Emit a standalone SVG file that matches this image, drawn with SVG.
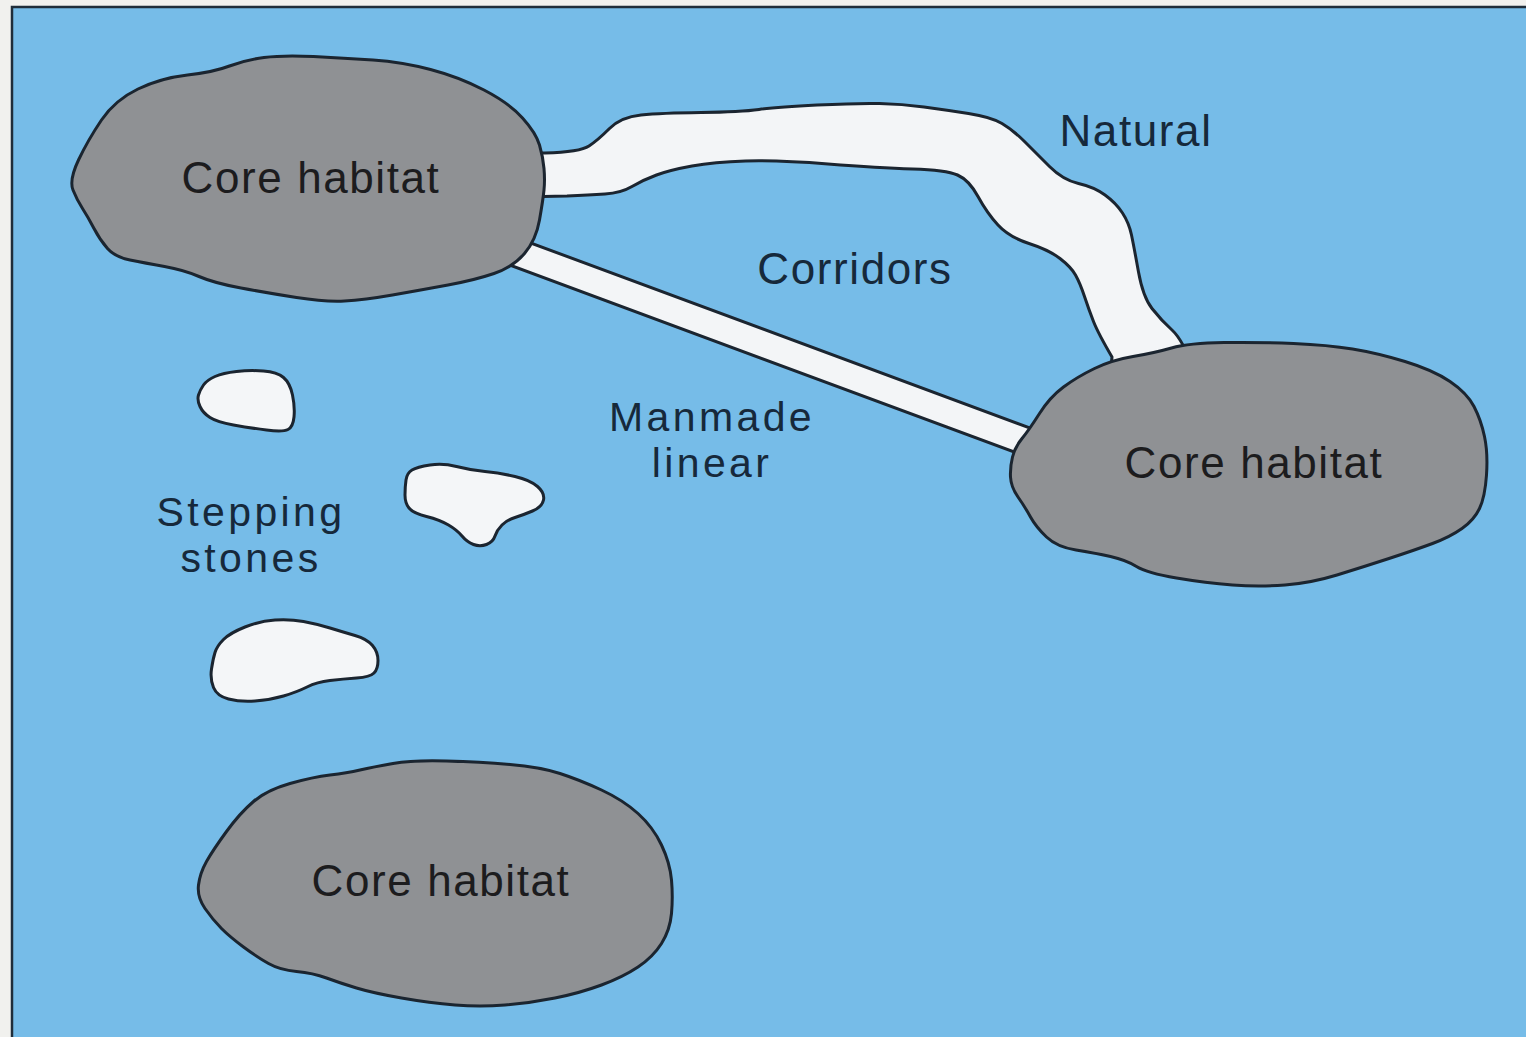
<svg xmlns="http://www.w3.org/2000/svg" width="1526" height="1037" viewBox="0 0 1526 1037">
<style>
.bg{fill:#f1f1ee}
.sea{fill:#76bce8;stroke:#1f2d3a;stroke-width:2.5}
.core{fill:#8f9194;stroke:#1b2530;stroke-width:3;stroke-linejoin:round}
.stone{fill:#f4f6f8;stroke:#1b2530;stroke-width:3;stroke-linejoin:round}
.corr{fill:#f3f5f7;stroke:#1b2530;stroke-width:3;stroke-linejoin:round}
.lbl{font-family:"Liberation Sans",Arial,sans-serif;font-size:44px;letter-spacing:1.6px;fill:#16293b;text-anchor:middle}
.lbl2{font-family:"Liberation Sans",Arial,sans-serif;font-size:41px;letter-spacing:3.4px;fill:#16293b;text-anchor:middle}
.clbl{font-family:"Liberation Sans",Arial,sans-serif;font-size:44px;letter-spacing:1.6px;fill:#1c1c1e;text-anchor:middle}
</style>
<rect class="bg" x="0" y="0" width="1526" height="1037"/>
<path class="sea" d="M1530 7 L12 7 L12 1040 L1530 1040 Z"/>
<g id="connectors">
<path id="natural-corridor" class="corr" d="M520 153 L545 153 Q580 152 589 146 Q598 140 609.5 128.5 Q621 117 641 115 Q661 113 701 112.5 Q741 112 759 109.5 Q777 107 817 105 Q857 103 879.5 103.5 Q902 104 924 107 Q946 110 968.5 113.5 Q991 117 1002 123.5 Q1013 130 1024.5 141.5 Q1036 153 1049.5 166.5 Q1063 180 1078.5 183.5 Q1094 187 1105 195 Q1116 203 1122.5 213 Q1129 223 1131.5 235 Q1134 247 1138.5 272 Q1143 297 1152 308.5 Q1161 320 1172 330 Q1183 340 1195 372 L1110 378 L1112 357 Q1098 333 1093.5 321.5 Q1089 310 1084.5 296.5 Q1080 283 1075.5 275 Q1071 267 1060 258.5 Q1049 250 1029 243.5 Q1009 237 998 225 Q987 213 978 196.5 Q969 180 957.5 175 Q946 170 912.5 169 Q879 168 828 164 Q777 160 745.5 161 Q714 162 692 166 Q670 170 656.5 175 Q643 180 632 186.5 Q621 193 605 194 Q589 195 567 196 L520 197 Z"/>
<path id="manmade-corridor" class="corr" d="M500 231.6 L1050 435.4 L1050 465.3 L490 257.8 Z"/>
</g>
<g id="core-1">
<path class="core" d="M73 190 Q69 180 78.5 160 Q88 140 101.5 120 Q115 100 138 89 Q161 78 187.5 75 Q214 72 229.5 66 Q245 60 264 57.5 Q283 55 313.5 56.5 Q344 58 373 60 Q402 62 430.5 69.5 Q459 77 484 90 Q509 103 522.5 118 Q536 133 539.5 145 Q543 157 544 168.5 Q545 180 544 190 Q543 200 539.5 220 Q536 240 524.5 253.5 Q513 267 494 273.5 Q475 280 448 285 Q421 290 392.5 295 Q364 300 344.5 301 Q325 302 296.5 297.5 Q268 293 241 288 Q214 283 199 276.5 Q184 270 164.5 266.5 Q145 263 130 260 Q115 257 107.5 248.5 Q100 240 94 228.5 Q88 217 82.5 208.5 Q77 200 73 190 Z"/>
<text class="clbl" x="311" y="193">Core habitat</text>
</g>
<g id="core-2">
<path class="core" d="M1010.5 477 Q1010 467 1012.5 457 Q1015 447 1022 438.5 Q1029 430 1039.5 413.5 Q1050 397 1063.5 387 Q1077 377 1094.5 368.5 Q1112 360 1133 356.5 Q1154 353 1171.5 348 Q1189 343 1224 342.5 Q1259 342 1293.5 343.5 Q1328 345 1352.5 349 Q1377 353 1405 361.5 Q1433 370 1450 381.5 Q1467 393 1474 406.5 Q1481 420 1484.5 436.5 Q1488 453 1486.5 475 Q1485 497 1479.5 508.5 Q1474 520 1462 528.5 Q1450 537 1432.5 543.5 Q1415 550 1389 558.5 Q1363 567 1337 575 Q1311 583 1285 585 Q1259 587 1232.5 585 Q1206 583 1176.5 578 Q1147 573 1136.5 566.5 Q1126 560 1110.5 556.5 Q1095 553 1076 550 Q1057 547 1046.5 537 Q1036 527 1030.5 517 Q1025 507 1018 497 Q1011 487 1010.5 477 Z"/>
<text class="clbl" x="1254" y="478">Core habitat</text>
</g>
<g id="core-3">
<path class="core" d="M205 908.5 Q197 897 198.5 885 Q200 873 206.5 861.5 Q213 850 226.5 831.5 Q240 813 253.5 801.5 Q267 790 290 783.5 Q313 777 330 775 Q347 773 360 770 Q373 767 393 763.5 Q413 760 446.5 761 Q480 762 510 764.5 Q540 767 560 773.5 Q580 780 601.5 790 Q623 800 638 813.5 Q653 827 661.5 845 Q670 863 671.5 880 Q673 897 671.5 913.5 Q670 930 661.5 943.5 Q653 957 638 967 Q623 977 601.5 985 Q580 993 555 998 Q530 1003 505 1005 Q480 1007 455 1005 Q430 1003 401.5 998 Q373 993 356.5 988 Q340 983 326.5 978 Q313 973 296.5 971.5 Q280 970 268.5 963.5 Q257 957 243.5 947 Q230 937 221.5 928.5 Q213 920 205 908.5 Z"/>
<text class="clbl" x="441" y="896">Core habitat</text>
</g>
<g id="stone-1">
<path class="stone" d="M198.5 395 Q200 390 203.5 385 Q207 380 215 376.5 Q223 373 236.5 371.5 Q250 370 263.5 371 Q277 372 283.5 377.5 Q290 383 292.5 395 Q295 407 294 417 Q293 427 288 429.5 Q283 432 266.5 430 Q250 428 233.5 425 Q217 422 210 417.5 Q203 413 200 406.5 Q197 400 198.5 395 Z"/>
</g>
<g id="stone-2">
<path class="stone" d="M406 480 Q407 473 412 470 Q417 467 430 465 Q443 463 456.5 466.5 Q470 470 485 471.5 Q500 473 515 476.5 Q530 480 537.5 486.5 Q545 493 543.5 500 Q542 507 532.5 511 Q523 515 515 517.5 Q507 520 502 525 Q497 530 495 536 Q493 542 486.5 544.5 Q480 547 473.5 544.5 Q467 542 462 536 Q457 530 448.5 525 Q440 520 426.5 516.5 Q413 513 409 508 Q405 503 405 495 Q405 487 406 480 Z"/>
</g>
<g id="stone-3">
<path class="stone" d="M211.5 669 Q213 659 215 652.5 Q217 646 223.5 639.5 Q230 633 245 627 Q260 621 275 620 Q290 619 303.5 621.5 Q317 624 330 628 Q343 632 355 635.5 Q367 639 372.5 645.5 Q378 652 378 660.5 Q378 669 374 673 Q370 677 356.5 678 Q343 679 330 680.5 Q317 682 307 687 Q297 692 283.5 696 Q270 700 255 701 Q240 702 228.5 699 Q217 696 213.5 687.5 Q210 679 211.5 669 Z"/>
</g>
<g id="labels">
<text class="lbl" x="1136" y="146">Natural</text>
<text class="lbl" x="855" y="284">Corridors</text>
<text class="lbl2" x="712" y="431">Manmade</text>
<text class="lbl2" x="712" y="477">linear</text>
<text class="lbl2" x="251" y="526">Stepping</text>
<text class="lbl2" x="251" y="572">stones</text>
</g>
</svg>
